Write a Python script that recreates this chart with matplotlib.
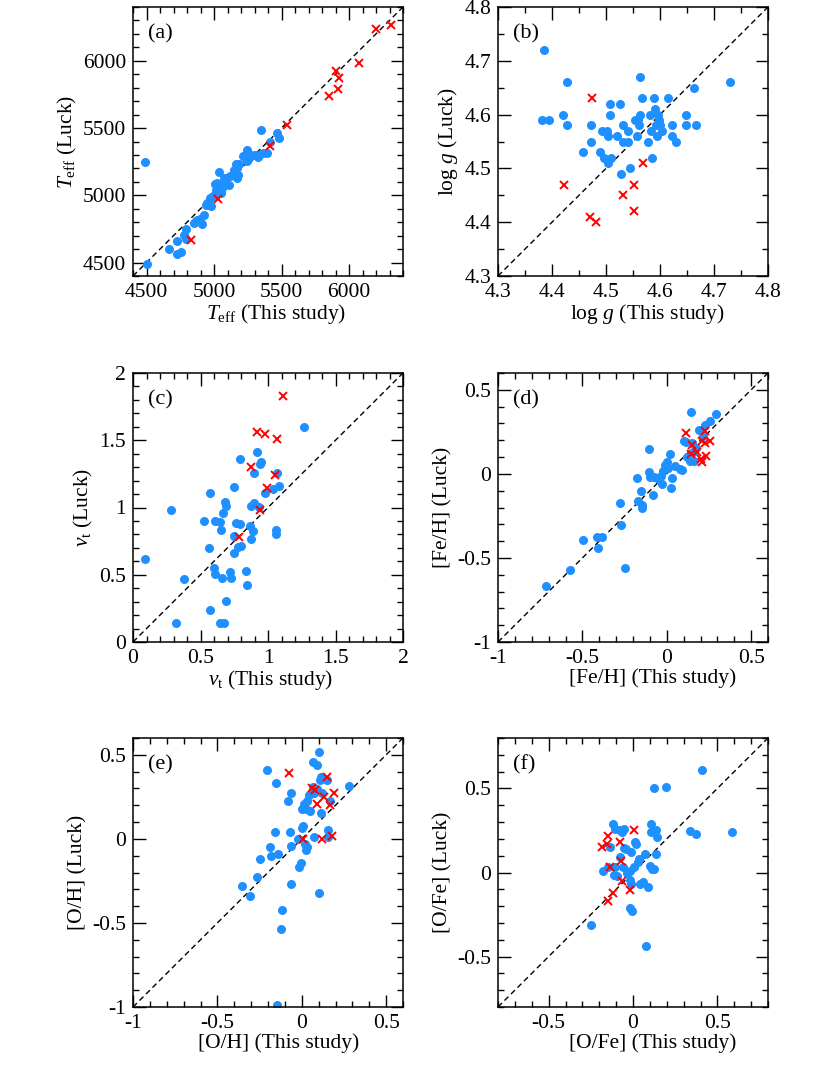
import numpy as np
import matplotlib
matplotlib.use("Agg")
import matplotlib.pyplot as plt
from matplotlib.ticker import MultipleLocator, FuncFormatter

# (a) Teff
a_blue_x = [4490, 4507, 4670, 4727, 4752, 4727, 4776, 4789, 4789, 4851, 4876, 4913, 4925, 4950,
            4975, 4970, 5012, 5049, 5062, 5024, 5111, 5074, 5037, 5168, 5181, 5148, 5173, 5161,
            5242, 5260, 5326, 5272, 5248, 5334, 5366, 5396, 5351, 5416, 5478, 5465, 4993, 5005,
            5080, 5092, 5122, 5187, 5254, 5217, 5300, 4938, 5055, 4863, 4893]
a_blue_y = [5244, 4488, 4600, 4562, 4579, 4660, 4702, 4746, 4672, 4795, 4820, 4783, 4857, 4943,
            4918, 4980, 5041, 5016, 5053, 5090, 5077, 5127, 5175, 5127, 5151, 5188, 5200, 5232,
            5256, 5274, 5286, 5298, 5340, 5303, 5315, 5315, 5488, 5396, 5426, 5463, 4996, 5083,
            5083, 5132, 5144, 5231, 5281, 5293, 5300, 4929, 5070, 4810, 4822]
a_red_x = [4826, 5030, 5418, 5543, 5852, 5922, 5927, 5902, 6076, 6201, 6308]
a_red_y = [4670, 4975, 5370, 5524, 5740, 5794, 5869, 5926, 5980, 6236, 6265]

# (b) log g
b_blue_x = [4.386, 4.381, 4.394, 4.427, 4.421, 4.427, 4.458, 4.472, 4.472, 4.488, 4.492, 4.496,
            4.501, 4.503, 4.504, 4.508, 4.508, 4.509, 4.520, 4.526, 4.527, 4.532, 4.531, 4.541,
            4.541, 4.544, 4.554, 4.557, 4.563, 4.563, 4.562, 4.566, 4.560, 4.578, 4.581, 4.583,
            4.586, 4.589, 4.591, 4.592, 4.595, 4.597, 4.599, 4.600, 4.603, 4.615, 4.623, 4.623,
            4.629, 4.649, 4.649, 4.663, 4.666, 4.729]
b_blue_y = [4.72, 4.59, 4.59, 4.66, 4.60, 4.58, 4.53, 4.58, 4.55, 4.53, 4.57, 4.52,
            4.57, 4.56, 4.51, 4.62, 4.60, 4.52, 4.56, 4.62, 4.49, 4.58, 4.55, 4.55,
            4.57, 4.50, 4.59, 4.56, 4.60, 4.67, 4.58, 4.63, 4.59, 4.55, 4.60, 4.57,
            4.52, 4.63, 4.61, 4.58, 4.56, 4.60, 4.59, 4.58, 4.57, 4.63, 4.58, 4.56,
            4.55, 4.60, 4.58, 4.65, 4.58, 4.66]
b_red_x = [4.474, 4.423, 4.471, 4.482, 4.531, 4.551, 4.551, 4.569]
b_red_y = [4.63, 4.47, 4.41, 4.40, 4.45, 4.47, 4.42, 4.51]

# (c) vt
c_blue_x = [0.091, 0.281, 0.319, 0.380, 0.528, 0.560, 0.568, 0.568, 0.598, 0.610, 0.610, 0.642,
            0.649, 0.659, 0.667, 0.679, 0.691, 0.647, 0.672, 0.689, 0.721, 0.728, 0.746, 0.746,
            0.748, 0.765, 0.790, 0.795, 0.778, 0.802, 0.837, 0.844, 0.869, 0.874, 0.874, 0.886,
            0.894, 0.899, 0.919, 0.936, 0.943, 0.948, 0.980, 1.037, 1.067, 1.059, 1.059, 1.079,
            1.264]
c_blue_y = [0.618, 0.979, 0.144, 0.468, 0.899, 0.697, 1.108, 0.237, 0.548, 0.506, 0.899, 0.892,
            0.829, 0.476, 0.959, 1.041, 1.009, 0.144, 0.144, 0.306, 0.518, 0.476, 1.151, 0.787,
            0.660, 0.884, 0.874, 1.360, 0.710, 0.717, 0.526, 0.426, 0.859, 0.767, 1.009, 0.822,
            1.034, 1.260, 1.410, 1.004, 1.320, 1.340, 1.111, 1.141, 1.260, 0.834, 0.800, 1.161,
            1.602]
c_red_x = [1.109, 0.921, 0.980, 1.067, 0.877, 1.049, 0.993, 0.943, 0.788]
c_red_y = [1.826, 1.559, 1.547, 1.509, 1.303, 1.240, 1.148, 0.979, 0.780]

# (d) [Fe/H]
d_blue_x = [-0.713, -0.574, -0.498, -0.414, -0.408, -0.386, -0.279, -0.273, -0.249, -0.175,
            -0.169, -0.155, -0.149, -0.149, -0.104, -0.104, -0.100, -0.084, -0.076, -0.056,
            -0.044, -0.036, -0.030, -0.020, -0.010, 0.000, 0.010, 0.020, 0.024, 0.030,
            0.050, 0.080, 0.090, 0.100, 0.114, 0.120, 0.139, 0.143, 0.149, 0.155,
            0.163, 0.175, 0.189, 0.229, 0.259, 0.289, 0.215]
d_blue_y = [-0.665, -0.571, -0.393, -0.373, -0.442, -0.373, -0.175, -0.304, -0.562, -0.024,
            -0.163, -0.099, -0.183, -0.202, 0.149, 0.010, -0.020, -0.123, -0.016, -0.024,
            -0.030, -0.010, -0.063, 0.020, 0.050, 0.069, 0.036, 0.119, -0.083, -0.024,
            0.044, 0.030, 0.026, 0.198, 0.192, 0.099, 0.079, 0.367, 0.183, 0.129,
            0.079, 0.155, 0.258, 0.288, 0.317, 0.357, 0.228]
d_red_x = [0.114, 0.149, 0.143, 0.179, 0.209, 0.229, 0.259, 0.205, 0.209, 0.235, 0.229]
d_red_y = [0.242, 0.169, 0.119, 0.129, 0.198, 0.254, 0.198, 0.089, 0.069, 0.109, 0.183]

# (e) [O/H]
e_blue_x = [-0.145, -0.121, -0.115, 0.105, -0.354, -0.304, -0.264, -0.250, -0.189, -0.185,
            -0.139, -0.159, -0.205, -0.155, -0.082, -0.062, -0.070, -0.066, -0.066, -0.020,
            -0.016, -0.006, 0.000, 0.008, 0.004, 0.014, 0.024, 0.018, 0.024, 0.030,
            0.034, 0.044, 0.050, 0.064, 0.074, 0.064, 0.089, 0.103, 0.113, 0.109,
            0.119, 0.113, 0.074, 0.147, 0.157, 0.169, 0.153, 0.278, 0.089]
e_blue_y = [-0.990, -0.537, -0.422, -0.323, -0.279, -0.339, -0.228, -0.121, -0.050, -0.101,
            -0.091, 0.040, 0.410, 0.331, 0.228, 0.271, 0.040, -0.042, -0.269, 0.000,
            -0.168, -0.145, 0.067, 0.077, 0.178, 0.208, 0.178, -0.030, -0.069, -0.050,
            0.228, 0.261, 0.168, 0.311, 0.271, 0.459, 0.440, 0.519, 0.370, 0.350,
            0.271, 0.152, 0.010, 0.350, 0.050, 0.226, 0.010, 0.317, 0.295]
e_red_x = [-0.076, 0.008, 0.058, 0.078, 0.089, 0.129, 0.119, 0.149, 0.169, 0.189, 0.177]
e_red_y = [0.390, 0.000, 0.301, 0.291, 0.208, 0.251, 0.000, 0.370, 0.202, 0.271, 0.020]

# (f) [O/Fe]
f_blue_x = [-0.248, -0.180, -0.119, -0.105, -0.139, -0.105, -0.095, -0.079, -0.065, -0.055,
            -0.075, -0.051, -0.040, -0.059, -0.036, -0.020, -0.016, -0.012, -0.020, -0.006,
            -0.012, 0.014, 0.020, 0.004, 0.028, 0.034, 0.040, 0.059, 0.073, 0.079,
            0.087, 0.103, 0.109, 0.109, 0.113, 0.127, 0.123, 0.139, 0.143, 0.139,
            0.198, 0.337, 0.376, 0.410, 0.588, -0.150, -0.115]
f_blue_y = [-0.310, 0.010, 0.289, 0.259, 0.150, 0.032, -0.018, 0.253, 0.243, 0.257,
            0.095, 0.144, 0.140, 0.030, 0.000, 0.010, -0.047, -0.067, -0.211, -0.231,
            0.120, 0.180, 0.168, 0.030, 0.065, 0.081, -0.067, -0.059, 0.111, -0.439,
            -0.087, 0.040, 0.289, 0.239, 0.022, 0.022, 0.500, 0.253, 0.210, 0.111,
            0.506, 0.249, 0.229, 0.609, 0.239, 0.032, -0.014]
f_red_x = [-0.184, -0.150, -0.154, -0.139, -0.075, -0.071, -0.065, -0.119, -0.149, -0.020, 0.004]
f_red_y = [0.150, 0.219, 0.170, 0.032, 0.180, 0.071, -0.049, -0.119, -0.168, -0.107, 0.253]

plt.rcParams['font.family'] = ['Liberation Serif', 'DejaVu Serif']
plt.rcParams['mathtext.fontset'] = 'custom'
plt.rcParams['mathtext.rm'] = 'Liberation Serif'
plt.rcParams['mathtext.it'] = 'Liberation Serif:italic'

BLUE = '#1e90ff'
W, H = 830, 1075
FS = 15.5


def fmt_g(v, pos):
    v = round(v, 3) + 0.0
    return '%g' % v


def fmt_1f(v, pos):
    return '%.1f' % v


def fmt_d(v, pos):
    return '%d' % round(v)


panels = [
    ('(a)', a_blue_x, a_blue_y, a_red_x, a_red_y, (4400, 6400), 500, 100, fmt_d,
     r'$T_{\rm eff}$ (This study)', r'$T_{\rm eff}$ (Luck)'),
    ('(b)', b_blue_x, b_blue_y, b_red_x, b_red_y, (4.3, 4.8), 0.1, 0.05, fmt_1f,
     r'log $g$ (This study)', r'log $g$ (Luck)'),
    ('(c)', c_blue_x, c_blue_y, c_red_x, c_red_y, (0, 2), 0.5, 0.1, fmt_g,
     r'$v_{\rm t}$ (This study)', r'$v_{\rm t}$ (Luck)'),
    ('(d)', d_blue_x, d_blue_y, d_red_x, d_red_y, (-1, 0.6), 0.5, 0.1, fmt_g,
     '[Fe/H] (This study)', '[Fe/H] (Luck)'),
    ('(e)', e_blue_x, e_blue_y, e_red_x, e_red_y, (-1, 0.6), 0.5, 0.1, fmt_g,
     '[O/H] (This study)', '[O/H] (Luck)'),
    ('(f)', f_blue_x, f_blue_y, f_red_x, f_red_y, (-0.8, 0.8), 0.5, 0.1, fmt_g,
     '[O/Fe] (This study)', '[O/Fe] (Luck)'),
]

# pixel boxes (left, top) of each panel, size 270x269
lefts = [133, 498]
tops = [7, 373, 738]
pw, ph = 270, 269
# x-label sits a bit right of centre in the original (pixels)
xlab_shift = [8, 14, 3, 20, 11, 20]

fig = plt.figure(figsize=(8.3, 10.75), dpi=100)

for i, (tag, bx, by, rx, ry, lim, major, minor, fmt, xl, yl) in enumerate(panels):
    left = lefts[i % 2]
    top = tops[i // 2]
    ax = fig.add_axes([left / W, 1 - (top + ph) / H, pw / W, ph / H])
    ax.plot(lim, lim, color='black', lw=1.0, linestyle=(0, (4, 2.6)), zorder=1)
    ax.plot(bx, by, 'o', color=BLUE, ms=6.5, mew=0, zorder=2)
    ax.plot(rx, ry, 'x', color='red', ms=6.3, mew=1.4, zorder=3)
    ax.set_xlim(lim)
    ax.set_ylim(lim)
    for axis in (ax.xaxis, ax.yaxis):
        axis.set_major_locator(MultipleLocator(major))
        axis.set_minor_locator(MultipleLocator(minor))
        axis.set_major_formatter(FuncFormatter(fmt))
    ax.tick_params(which='both', direction='in', top=True, right=True, width=1.0)
    ax.tick_params(which='major', length=9, pad=5, labelsize=FS)
    ax.tick_params(which='minor', length=4.5)
    for s in ax.spines.values():
        s.set_linewidth(1.1)
    ax.set_xlabel(xl, fontsize=FS, labelpad=0)
    ax.set_ylabel(yl, fontsize=FS, labelpad=3)
    ax.xaxis.label.set_x(0.5 + xlab_shift[i] / pw)
    ax.text(0.055, 0.935, tag, transform=ax.transAxes, va='top', ha='left', fontsize=FS + 0.5)

fig.savefig('out.png', dpi=100)
